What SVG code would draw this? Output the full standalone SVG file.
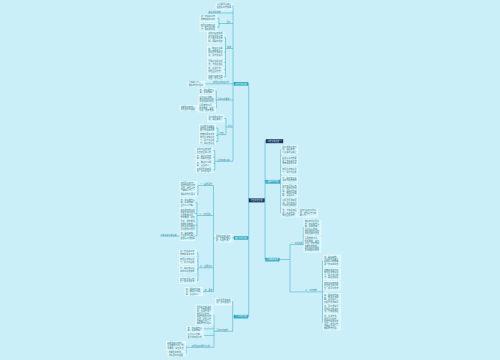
<svg xmlns="http://www.w3.org/2000/svg" width="500" height="360" viewBox="0 0 500 360">
<style>
.t{font-family:"Noto Sans CJK SC","Noto Sans",sans-serif;font-size:2.05px;fill:#3b7b8a}
.lt{font-family:"Noto Sans CJK SC","Noto Sans",sans-serif;font-size:2px;fill:#3a8898}
.b{fill:#d9f5fb;stroke:#ffffff;stroke-width:.45}
.c{fill:none;stroke:#4ab4c9;stroke-width:.6}
.k1{fill:#35aec7;stroke:#2391aa;stroke-width:.4}
.k0{fill:#1c3d66;stroke:#142e4f;stroke-width:.4}
.kt{font-family:"Noto Sans CJK SC","Noto Sans",sans-serif;font-size:1.9px;fill:#f2fdff;text-anchor:middle}
</style>
<rect width="500" height="360" fill="#cbeff9"/>
<g id="connectors">
<path class="c" d="M264.3 200.4H265M266 141.2H265V259.5H265.7"/>
<path class="c" d="M280 181.7H280.7M280.7 149.85V213M280.7 149.85H281.7M280.7 161H281.7M280.7 171H281.7M280.7 179.2H281.7M280.7 190.8H281.7M280.7 203H281.7M280.7 213H281.7M297.7 213H299"/>
<path class="c" d="M279.3 259.5H290M290 244.5V291.9M290 244.5H303.3M303.3 227.5V244.5M303.3 227.5H304M303.3 244.5H304M290 291.9H322.5M322.5 260.85V322.5M322.5 260.85H323.3M322.5 274.15H323.3M322.5 285.85H323.3M322.5 298.3H323.3M322.5 309.15H323.3M322.5 322.5H323.3"/>
<path class="c" d="M249 200.4H248.7M248 83.8H248.7V316.6H248M248.7 238H248"/>
<path class="c" d="M234 83.8H233M233 6.2V161.3M233 6.2H232M233 13H208M233 23.5H219M219 18.25V27.2M219 18.25H217M219 27.2H217M233 48.5H225.5M225.5 37.5V77M225.5 37.5H224M225.5 52H224M225.5 62.5H224M225.5 69.5H224M225.5 77H224M233 83.8H205"/>
<path class="c" d="M233 100H216.3M216.3 90.8V108M216.3 90.8H215M216.3 99.1H215M216.3 108H215.5M198.5 108.1H198"/>
<path class="c" d="M233 127H226M226 118.5V134.6M226 118.5H224M226 134.6H217.8M217.8 128V141.5M217.8 128H215.8M217.8 135.5H215.8M217.8 141.5H215.8"/>
<path class="c" d="M233 161.3H214.8M214.8 150.5V170M214.8 150.5H213M214.8 157.3H213M214.8 163.5H213M214.8 170H213"/>
<path class="c" d="M234 238H232M215 238H213.5M213.5 185.5V291.55M213.5 185.5H198M198 186.5V194.7M198 186.5H196.7M198 194.7H196.7M213.5 215.5H197M197 202.75V236M197 202.75H195M197 213.5H195M197 225H195M197 236H195M180 236H160"/>
<path class="c" d="M213.5 267.8H198M198 252.9V280.4M198 252.9H196.7M198 261.1H196.7M198 269.6H196.7M198 280.4H196.7M213.5 291.55H202.7"/>
<path class="c" d="M234 316.6H232.7M232.7 301.65V331.3M232.7 301.65H231.7M232.7 331.3H214M214 315V347.3M214 315H213M214 328.8H203.3M214 335.4H203.3M214 347.3H186M186 345.6V353.7M186 345.6H185.5M186 353.7H185.5"/>
</g>
<g id="root"><rect class="k0" x="249" y="198.7" width="15.3" height="3.4"/><text class="kt" x="256.65" y="201.1">年度工作计划</text></g>
<g id="b1"><rect class="k0" x="266" y="139.4" width="17" height="3.6"/><text class="kt" x="274.5" y="141.9">工作计划范文一</text></g>
<g id="b2"><rect class="k1" x="265.7" y="180.1" width="14.3" height="3.2"/><text class="kt" x="272.85" y="182.4">主要工作内容</text></g>
<g id="b3"><rect class="k1" x="265.7" y="258" width="13.6" height="3.1"/><text class="kt" x="272.5" y="260.2">具体措施安排</text></g>
<g id="l1"><rect class="k1" x="234" y="82.2" width="14" height="3.2"/><text class="kt" x="241" y="84.5">工作计划范文</text></g>
<g id="l2"><rect class="k1" x="234" y="236.5" width="14" height="3"/><text class="kt" x="241" y="238.7">部门工作计划</text></g>
<g id="l3"><rect class="k1" x="234" y="315.1" width="14" height="3"/><text class="kt" x="241" y="317.3">个人工作计划</text></g>
<g id="n1"><rect class="b" x="216" y="3" width="16" height="6.5"/><text class="t" x="216.7" y="5.3">认真贯彻落实上<tspan x="216.7" dy="2.4">级各项工作部署</tspan></text></g>
<g id="n2"><text class="lt" x="208.5" y="12.5">完善工作机制</text></g>
<g id="n3"><text class="lt" x="226.6" y="23">目标</text></g>
<g id="n4"><rect class="b" x="200" y="15" width="17" height="6.5"/><text class="t" x="200.7" y="17.3">进一步提高工作<tspan x="200.7" dy="2.4">质量和服务水平</tspan></text></g>
<g id="n5"><rect class="b" x="200" y="23.3" width="17" height="7.8"/><text class="t" x="200.7" y="25.5">加强业务知识学<tspan x="200.7" dy="2.4">习，提升综合能</tspan><tspan x="200.7" dy="2.4">力，确保各项任</tspan></text></g>
<g id="n6"><text class="lt" x="227" y="48">措施</text></g>
<g id="n7"><rect class="b" x="207.5" y="32" width="16.5" height="11"/><text class="t" x="208.2" y="34.4">务按时保质完成<tspan x="208.2" dy="2.4">建立健全规章制</tspan><tspan x="208.2" dy="2.4">度，规范工作流</tspan><tspan x="208.2" dy="2.4">程，明确岗位职</tspan></text></g>
<g id="n8"><rect class="b" x="207.5" y="46" width="16.5" height="12"/><text class="t" x="208.2" y="48.6">责，做到分工明<tspan x="208.2" dy="2.4">确、责任到人。</tspan><tspan x="208.2" dy="2.4">积极开展调查研</tspan><tspan x="208.2" dy="2.4">究，及时发现问</tspan></text></g>
<g id="n9"><rect class="b" x="207.5" y="60" width="16.5" height="5"/><text class="t" x="208.2" y="62.2">题并提出解决办<tspan x="208.2" dy="2.4">法，不断总结经</tspan></text></g>
<g id="n10"><rect class="b" x="207.5" y="67" width="16.5" height="5"/><text class="t" x="208.2" y="69.2">验，改进方法。<tspan x="208.2" dy="2.4">加强团队协作，</tspan></text></g>
<g id="n11"><rect class="b" x="207.5" y="74" width="16.5" height="6"/><text class="t" x="208.2" y="76.5">营造良好的工作<tspan x="208.2" dy="2.4">氛围，增强凝聚</tspan></text></g>
<g id="n12"><text class="lt" x="213" y="83.3">加强队伍建设工作</text></g>
<g id="n13"><rect class="b" x="188" y="81.2" width="17" height="5.2"/><text class="t" x="188.7" y="83.4">力和战斗力。<tspan x="188.7" dy="2.4">做好日常管理工</tspan></text></g>
<g id="n14"><text class="lt" x="217.5" y="99.5">具体工作要求</text></g>
<g id="n15"><rect class="b" x="199" y="88.3" width="16" height="5"/><text class="t" x="199.6" y="90.5">作，抓好细节落<tspan x="199.6" dy="2.4">实，提高效率。</tspan></text></g>
<g id="n16"><rect class="b" x="199" y="95.3" width="16" height="7.6"/><text class="t" x="199.6" y="97.5">坚持以人为本，<tspan x="199.6" dy="2.4">充分调动员工的</tspan><tspan x="199.6" dy="2.4">积极性和创造性</tspan></text></g>
<g id="n17"><rect class="b" x="198.5" y="104" width="17" height="8"/><text class="t" x="199.2" y="106.3">合理安排时间，<tspan x="199.2" dy="2.4">统筹兼顾，突出</tspan><tspan x="199.2" dy="2.4">重点，稳步推进</tspan></text></g>
<g id="n18"><rect class="b" x="180" y="105.6" width="18" height="5"/><text class="t" x="180.7" y="107.8">定期检查考核，<tspan x="180.7" dy="2.4">对照目标找差距</tspan></text></g>
<g id="n19"><text class="lt" x="227.8" y="126.5">重点</text></g>
<g id="n20"><rect class="b" x="207.7" y="115" width="16.3" height="7" /><text class="t" x="208.4" y="117.6">及时调整工作计<tspan x="208.4" dy="2.4">划，确保实效。</tspan></text></g>
<g id="n21"><text class="lt" x="219.6" y="134.1">内容</text></g>
<g id="n22"><rect class="b" x="199.3" y="124.3" width="16.5" height="7.5"/><text class="t" x="200" y="126.5">认真贯彻落实上<tspan x="200" dy="2.4">级各项工作部署</tspan><tspan x="200" dy="2.4">进一步提高工作</tspan></text></g>
<g id="n23"><rect class="b" x="199.3" y="133" width="16.5" height="5"/><text class="t" x="200" y="135.2">质量和服务水平<tspan x="200" dy="2.4">加强业务知识学</tspan></text></g>
<g id="n24"><rect class="b" x="199.3" y="139" width="16.5" height="5"/><text class="t" x="200" y="141.2">习，提升综合能<tspan x="200" dy="2.4">力，确保各项任</tspan></text></g>
<g id="n25"><text class="lt" x="217.5" y="160.8">保障措施落实</text></g>
<g id="n26"><rect class="b" x="196" y="148" width="17" height="5"/><text class="t" x="196.7" y="150.2">务按时保质完成<tspan x="196.7" dy="2.4">建立健全规章制</tspan></text></g>
<g id="n27"><rect class="b" x="196" y="154.8" width="17" height="5"/><text class="t" x="196.7" y="157">度，规范工作流<tspan x="196.7" dy="2.4">程，明确岗位职</tspan></text></g>
<g id="n28"><rect class="b" x="196" y="161" width="17" height="5"/><text class="t" x="196.7" y="163.2">责，做到分工明<tspan x="196.7" dy="2.4">确、责任到人。</tspan></text></g>
<g id="n29"><rect class="b" x="196" y="167.5" width="17" height="5"/><text class="t" x="196.7" y="169.7">积极开展调查研<tspan x="196.7" dy="2.4">究，及时发现问</tspan></text></g>
<g id="n30"><rect class="b" x="215" y="234.4" width="17" height="7.6"/><text class="t" x="215.7" y="236.6">题并提出解决办<tspan x="215.7" dy="2.4">法，不断总结经</tspan><tspan x="215.7" dy="2.4">验，改进方法。</tspan></text></g>
<g id="n31"><text class="lt" x="200" y="185">一、指导思想</text></g>
<g id="n32"><rect class="b" x="180" y="181.5" width="16.7" height="10"/><text class="t" x="180.7" y="183.8">加强团队协作，<tspan x="180.7" dy="2.4">营造良好的工作</tspan><tspan x="180.7" dy="2.4">氛围，增强凝聚</tspan><tspan x="180.7" dy="2.4">力和战斗力。</tspan></text></g>
<g id="n33"><rect class="b" x="180" y="193.2" width="16.7" height="3"/><text class="t" x="180.7" y="195.3">做好日常管理工</text></g>
<g id="n34"><text class="lt" x="199" y="215">二、工作目标</text></g>
<g id="n35"><rect class="b" x="180" y="198.5" width="15" height="8.5"/><text class="t" x="180.5" y="200.8">作，抓好细节落<tspan x="180.5" dy="2.4">实，提高效率。</tspan><tspan x="180.5" dy="2.4">坚持以人为本，</tspan></text></g>
<g id="n36"><rect class="b" x="180" y="208.5" width="15" height="10"/><text class="t" x="180.5" y="210.8">充分调动员工的<tspan x="180.5" dy="2.4">积极性和创造性</tspan><tspan x="180.5" dy="2.4">合理安排时间，</tspan><tspan x="180.5" dy="2.4">统筹兼顾，突出</tspan></text></g>
<g id="n37"><rect class="b" x="180" y="220" width="15" height="10"/><text class="t" x="180.5" y="222.3">重点，稳步推进<tspan x="180.5" dy="2.4">定期检查考核，</tspan><tspan x="180.5" dy="2.4">对照目标找差距</tspan><tspan x="180.5" dy="2.4">及时调整工作计</tspan></text></g>
<g id="n38"><rect class="b" x="180" y="231.5" width="15" height="9"/><text class="t" x="180.5" y="233.8">划，确保实效。<tspan x="180.5" dy="2.4">认真贯彻落实上</tspan><tspan x="180.5" dy="2.4">级各项工作部署</tspan></text></g>
<g id="n39"><text class="lt" x="160.5" y="235.5">工作任务分解落实</text></g>
<g id="n40"><text class="lt" x="200" y="267.3">三、主要任务</text></g>
<g id="n41"><rect class="b" x="179.3" y="250" width="17.4" height="5.8"/><text class="t" x="180" y="252.4">进一步提高工作<tspan x="180" dy="2.4">质量和服务水平</tspan></text></g>
<g id="n42"><rect class="b" x="179.3" y="257.9" width="17.4" height="6.4"/><text class="t" x="180" y="260.4">加强业务知识学<tspan x="180" dy="2.4">习，提升综合能</tspan></text></g>
<g id="n43"><rect class="b" x="179.3" y="266.7" width="17.4" height="5.8"/><text class="t" x="180" y="269.1">力，确保各项任<tspan x="180" dy="2.4">务按时保质完成</tspan></text></g>
<g id="n44"><rect class="b" x="179.3" y="277.5" width="17.4" height="5.8"/><text class="t" x="180" y="279.9">建立健全规章制<tspan x="180" dy="2.4">度，规范工作流</tspan></text></g>
<g id="n45"><text class="lt" x="204.5" y="291">四、要求</text></g>
<g id="n46"><rect class="b" x="185" y="287.3" width="17.7" height="8.5"/><text class="t" x="185.7" y="289.7">程，明确岗位职<tspan x="185.7" dy="2.4">责，做到分工明</tspan><tspan x="185.7" dy="2.4">确、责任到人。</tspan></text></g>
<g id="n47"><rect class="b" x="215.7" y="298.3" width="16" height="6.7"/><text class="t" x="216.3" y="300.9">积极开展调查研<tspan x="216.3" dy="2.4">究，及时发现问</tspan></text></g>
<g id="n48"><text class="lt" x="216" y="330.8">具体工作安排</text></g>
<g id="n49"><rect class="b" x="196" y="305" width="17" height="20"/><text class="t" x="196.7" y="307.5">题并提出解决办<tspan x="196.7" dy="2.4">法，不断总结经</tspan><tspan x="196.7" dy="2.4">验，改进方法。</tspan><tspan x="196.7" dy="2.4">加强团队协作，</tspan><tspan x="196.7" dy="2.4">营造良好的工作</tspan><tspan x="196.7" dy="2.4">氛围，增强凝聚</tspan><tspan x="196.7" dy="2.4">力和战斗力。</tspan><tspan x="196.7" dy="2.4">做好日常管理工</tspan></text></g>
<g id="n50"><rect class="b" x="187" y="326.3" width="16.3" height="5"/><text class="t" x="187.6" y="328.5">作，抓好细节落<tspan x="187.6" dy="2.4">实，提高效率。</tspan></text></g>
<g id="n51"><rect class="b" x="187" y="332.8" width="16.3" height="5.2"/><text class="t" x="187.6" y="335.1">坚持以人为本，<tspan x="187.6" dy="2.4">充分调动员工的</tspan></text></g>
<g id="n52"><text class="lt" x="192" y="346.8">加强组织领导与保障</text></g>
<g id="n53"><rect class="b" x="166.5" y="341.3" width="19" height="8.6"/><text class="t" x="167.2" y="343.7">积极性和创造性。<tspan x="167.2" dy="2.4">合理安排时间，统</tspan><tspan x="167.2" dy="2.4">筹兼顾，突出重点</tspan></text></g>
<g id="n54"><rect class="b" x="168" y="351.2" width="17.5" height="5"/><text class="t" x="168.7" y="353.4">定期检查考核，<tspan x="168.7" dy="2.4">对照目标找差距</tspan></text></g>
<g id="n55"><rect class="b" x="281.7" y="145.7" width="16" height="8.3"/><text class="t" x="282.3" y="148">及时调整工作计<tspan x="282.3" dy="2.4">划，确保实效。</tspan><tspan x="282.3" dy="2.4">认真贯彻落实上</tspan></text></g>
<g id="n56"><rect class="b" x="281.7" y="157" width="16" height="8"/><text class="t" x="282.3" y="159.3">级各项工作部署<tspan x="282.3" dy="2.4">进一步提高工作</tspan><tspan x="282.3" dy="2.4">质量和服务水平</tspan></text></g>
<g id="n57"><rect class="b" x="281.7" y="168" width="16" height="6"/><text class="t" x="282.3" y="170.4">加强业务知识学<tspan x="282.3" dy="2.4">习，提升综合能</tspan></text></g>
<g id="n58"><rect class="b" x="281.7" y="176.4" width="16" height="5.6"/><text class="t" x="282.3" y="178.7">力，确保各项任<tspan x="282.3" dy="2.4">务按时保质完成</tspan></text></g>
<g id="n59"><rect class="b" x="281.7" y="184.6" width="16" height="12.4"/><text class="t" x="282.3" y="186.8">建立健全规章制<tspan x="282.3" dy="2.4">度，规范工作流</tspan><tspan x="282.3" dy="2.4">程，明确岗位职</tspan><tspan x="282.3" dy="2.4">责，做到分工明</tspan><tspan x="282.3" dy="2.4">确、责任到人。</tspan></text></g>
<g id="n60"><rect class="b" x="281.7" y="199" width="16" height="8"/><text class="t" x="282.3" y="201.3">积极开展调查研<tspan x="282.3" dy="2.4">究，及时发现问</tspan><tspan x="282.3" dy="2.4">题并提出解决办</tspan></text></g>
<g id="n61"><rect class="b" x="281.7" y="209" width="16" height="8"/><text class="t" x="282.3" y="211.3">法，不断总结经<tspan x="282.3" dy="2.4">验，改进方法。</tspan><tspan x="282.3" dy="2.4">加强团队协作，</tspan></text></g>
<g id="n62"><rect class="b" x="299" y="209" width="18.7" height="8"/><text class="t" x="299.7" y="211.3">营造良好的工作氛<tspan x="299.7" dy="2.4">围，增强凝聚力和</tspan><tspan x="299.7" dy="2.4">战斗力。</tspan></text></g>
<g id="n63"><text class="lt" x="290.5" y="244">一、工作措施</text></g>
<g id="n64"><rect class="b" x="304" y="220" width="17" height="15"/><text class="t" x="304.7" y="222.4">做好日常管理工<tspan x="304.7" dy="2.4">作，抓好细节落</tspan><tspan x="304.7" dy="2.4">实，提高效率。</tspan><tspan x="304.7" dy="2.4">坚持以人为本，</tspan><tspan x="304.7" dy="2.4">充分调动员工的</tspan><tspan x="304.7" dy="2.4">积极性和创造性</tspan></text></g>
<g id="n65"><rect class="b" x="304" y="237" width="17" height="15"/><text class="t" x="304.7" y="239.4">合理安排时间，<tspan x="304.7" dy="2.4">统筹兼顾，突出</tspan><tspan x="304.7" dy="2.4">重点，稳步推进</tspan><tspan x="304.7" dy="2.4">定期检查考核，</tspan><tspan x="304.7" dy="2.4">对照目标找差距</tspan><tspan x="304.7" dy="2.4">及时调整工作计</tspan></text></g>
<g id="n66"><text class="lt" x="305" y="291.4">二、工作安排</text></g>
<g id="n67"><rect class="b" x="323.3" y="255" width="17.4" height="11.7"/><text class="t" x="324" y="257.5">划，确保实效。<tspan x="324" dy="2.4">认真贯彻落实上</tspan><tspan x="324" dy="2.4">级各项工作部署</tspan><tspan x="324" dy="2.4">进一步提高工作</tspan></text></g>
<g id="n68"><rect class="b" x="323.3" y="268.3" width="17.4" height="11.7"/><text class="t" x="324" y="270.8">质量和服务水平<tspan x="324" dy="2.4">加强业务知识学</tspan><tspan x="324" dy="2.4">习，提升综合能</tspan><tspan x="324" dy="2.4">力，确保各项任</tspan></text></g>
<g id="n69"><rect class="b" x="323.3" y="281.7" width="17.4" height="8.3"/><text class="t" x="324" y="284">务按时保质完成<tspan x="324" dy="2.4">建立健全规章制</tspan><tspan x="324" dy="2.4">度，规范工作流</tspan></text></g>
<g id="n70"><rect class="b" x="323.3" y="293.3" width="17.4" height="10"/><text class="t" x="324" y="295.6">程，明确岗位职<tspan x="324" dy="2.4">责，做到分工明</tspan><tspan x="324" dy="2.4">确、责任到人。</tspan><tspan x="324" dy="2.4">积极开展调查研</tspan></text></g>
<g id="n71"><rect class="b" x="323.3" y="305" width="17.4" height="8.3"/><text class="t" x="324" y="307.3">究，及时发现问<tspan x="324" dy="2.4">题并提出解决办</tspan><tspan x="324" dy="2.4">法，不断总结经</tspan></text></g>
<g id="n72"><rect class="b" x="323.3" y="315" width="17.4" height="15"/><text class="t" x="324" y="317.4">验，改进方法。<tspan x="324" dy="2.4">加强团队协作，</tspan><tspan x="324" dy="2.4">营造良好的工作</tspan><tspan x="324" dy="2.4">氛围，增强凝聚</tspan><tspan x="324" dy="2.4">力和战斗力。</tspan><tspan x="324" dy="2.4">做好日常管理。</tspan></text></g>
</svg>
